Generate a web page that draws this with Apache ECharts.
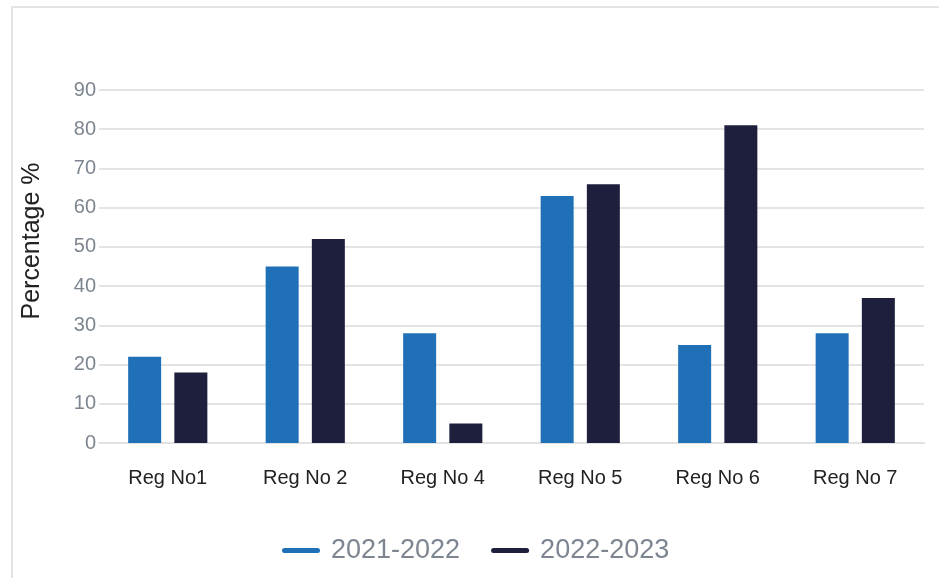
<!DOCTYPE html>
<html>
<head>
<meta charset="utf-8">
<script src="https://cdn.jsdelivr.net/npm/echarts@6/dist/echarts.min.js"></script>
<style>
html,body{margin:0;padding:0;background:#fff;}
#c{width:939px;height:578px;}
</style>
</head>
<body>
<div id="c"></div>
<script>
const categories = ['Reg No1', 'Reg No 2', 'Reg No 4', 'Reg No 5', 'Reg No 6', 'Reg No 7'];
const seriesNames = ['2021-2022', '2022-2023'];
const values2021 = [22, 45, 28, 63, 25, 28];
const values2022 = [18, 52, 5, 66, 81, 37];
const yTicks = [0, 10, 20, 30, 40, 50, 60, 70, 80, 90];
const yTitle = 'Percentage %';

const colors = ['#1f70b7', '#1e1f3d'];
const font = 'Liberation Sans, Arial, Helvetica, sans-serif';
const chart = echarts.init(document.getElementById('c'));
const legendIcon = 'path://M2.5,0 L35.5,0 A2.5,2.5 0 0 1 35.5,5 L2.5,5 A2.5,2.5 0 0 1 2.5,0 Z';

chart.setOption({
  animation: false,
  color: colors,
  graphic: [{
    type: 'rect',
    shape: { x: 12, y: 7, width: 1200, height: 1000 },
    style: { fill: 'none', stroke: '#e4e4e4', lineWidth: 2 },
    silent: true
  }, {
    type: 'text',
    x: 32, y: 241,
    rotation: Math.PI / 2,
    style: { text: yTitle, font: '25px ' + font, fill: '#222', align: 'center', verticalAlign: 'middle' },
    silent: true
  }],
  grid: { left: 99, right: 15, top: 90, bottom: 135, containLabel: false },
  legend: {
    data: seriesNames,
    left: 277,
    top: 532,
    icon: legendIcon,
    itemWidth: 38,
    itemHeight: 5,
    itemGap: 31,
    textStyle: { fontFamily: font, fontSize: 27, color: '#7d8690', padding: [0, 0, 0, 6] }
  },
  xAxis: {
    type: 'category',
    data: categories,
    axisLine: { show: true, lineStyle: { color: '#e2e2e2', width: 2 } },
    axisTick: { show: false },
    axisLabel: { fontFamily: font, fontSize: 20, color: '#222', margin: 25 }
  },
  yAxis: {
    type: 'value',
    min: yTicks[0],
    max: yTicks[yTicks.length - 1],
    interval: 10,
    axisLine: { show: false },
    axisTick: { show: false },
    splitLine: { lineStyle: { color: '#e4e4e4', width: 2 } },
    axisLabel: { fontFamily: font, fontSize: 20, color: '#7d8690', margin: 3 }
  },
  series: [
    { name: seriesNames[0], type: 'bar', data: values2021, barWidth: 33, barGap: '40%',
      itemStyle: { color: colors[0] } },
    { name: seriesNames[1], type: 'bar', data: values2022, barWidth: 33, barGap: '40%',
      itemStyle: { color: colors[1] } }
  ]
});
</script>
</body>
</html>
